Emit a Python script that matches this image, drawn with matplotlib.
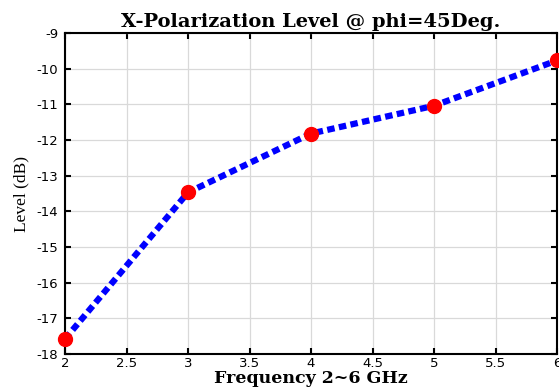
import matplotlib
matplotlib.use('Agg')
import matplotlib.pyplot as plt

plt.rcParams['axes.unicode_minus'] = False

freq = [2, 3, 4, 5, 6]
level = [-17.58, -13.47, -11.82, -11.04, -9.77]
xticks = [2, 2.5, 3, 3.5, 4, 4.5, 5, 5.5, 6]
yticks = [-18, -17, -16, -15, -14, -13, -12, -11, -10, -9]

fig = plt.figure(figsize=(5.59, 3.87), dpi=100)
ax = fig.add_axes([65 / 559, 33 / 387, 492 / 559, 321 / 387])

ax.plot(freq, level, color='blue', linestyle=(0, (1.2, 0.7)), linewidth=4.5,
        marker='o', markersize=10, markerfacecolor='red', markeredgecolor='red',
        clip_on=False, zorder=3)

ax.set_xlim(2, 6)
ax.set_ylim(-18, -9)
ax.set_xticks(xticks)
ax.set_xticklabels([('%g' % t) for t in xticks])
ax.set_yticks(yticks)
ax.grid(True, color='#d9d9d9', linewidth=0.9)
ax.tick_params(direction='in', top=True, right=True, length=4, width=1.5,
               labelsize=9.5)
ax.tick_params(axis='x', pad=2)
ax.tick_params(axis='y', pad=5)
for lab in ax.get_xticklabels() + ax.get_yticklabels():
    lab.set_family('DejaVu Sans')
for s in ax.spines.values():
    s.set_linewidth(1.5)

ax.set_title('X-Polarization Level @ phi=45Deg.', family='DejaVu Serif',
             fontweight='bold', fontsize=14, pad=4)
ax.set_xlabel('Frequency 2~6 GHz', family='DejaVu Serif',
              fontweight='bold', fontsize=12.5, labelpad=0)
ax.set_ylabel('Level (dB)', family='Liberation Serif', fontsize=12.5,
              labelpad=5)

fig.savefig('out.png', dpi=100)
